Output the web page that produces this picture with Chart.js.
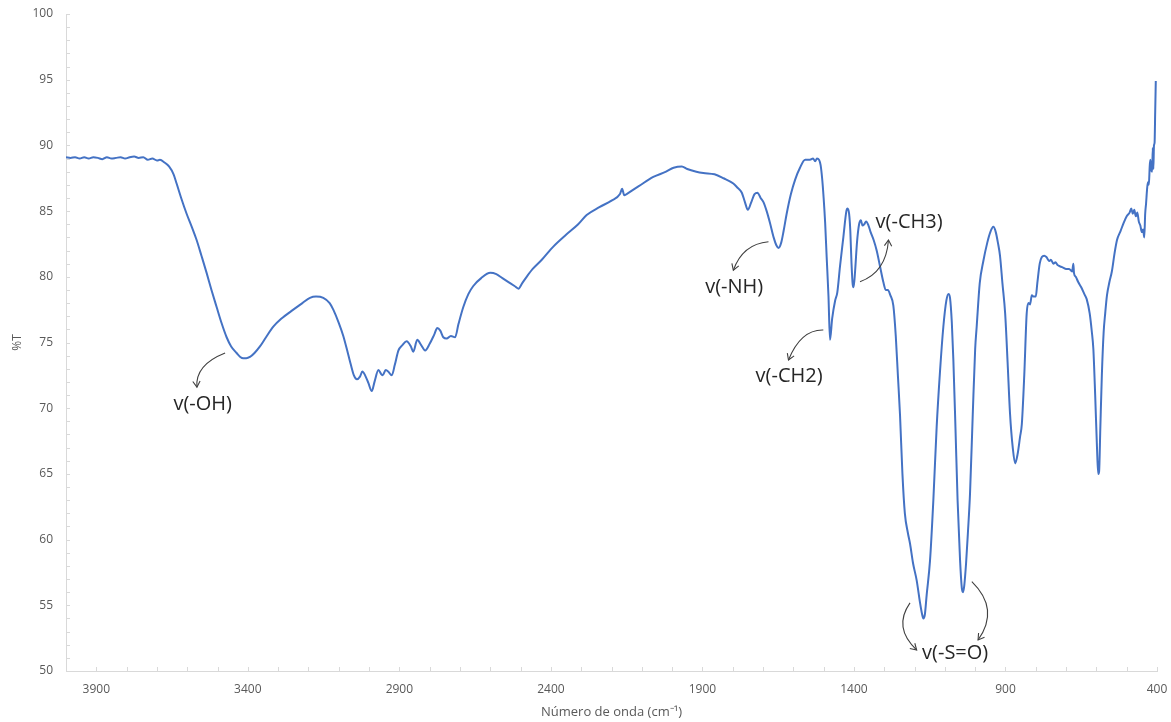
<!DOCTYPE html>
<html>
<head>
<meta charset="utf-8">
<script src="https://cdn.jsdelivr.net/npm/chart.js@4.4.1/dist/chart.umd.min.js"></script>
<style>
  html, body { margin: 0; padding: 0; background: #ffffff; }
  #wrap { width: 1171px; height: 722px; }
</style>
</head>
<body>
<div id="wrap"><canvas id="spectrum" width="1171" height="722"></canvas></div>
<script>
// FTIR spectrum: wavenumber (cm-1) and transmittance (%T)
const wavenumbers = [
  4000, 3985, 3970, 3955, 3940, 3925, 3910, 3895, 3880, 3865, 3850, 3835, 3820, 3805, 3790, 3775, 3760, 3745, 3730, 3715,
  3700, 3690, 3675, 3660, 3645, 3635, 3620, 3602, 3585, 3569, 3553, 3536, 3520, 3503, 3487, 3470, 3455, 3437, 3425, 3415,
  3405, 3393, 3378, 3360, 3340, 3316, 3290, 3250, 3220, 3195, 3175, 3151, 3130, 3118, 3100, 3085, 3070, 3060, 3050, 3040,
  3030, 3022, 3013, 3002, 2991, 2982, 2969, 2960, 2955, 2945, 2937, 2925, 2915, 2903, 2890, 2876, 2862, 2854, 2841, 2828,
  2815, 2800, 2785, 2775, 2765, 2755, 2744, 2730, 2716, 2705, 2689, 2672, 2656, 2630, 2600, 2580, 2560, 2540, 2520, 2507,
  2495, 2480, 2460, 2430, 2392, 2350, 2310, 2282, 2240, 2200, 2172, 2165, 2158, 2150, 2110, 2062, 2020, 1995, 1968, 1950,
  1920, 1897, 1860, 1830, 1798, 1785, 1770, 1760, 1750, 1740, 1728, 1718, 1708, 1699, 1688, 1677, 1665, 1656, 1649, 1640,
  1632, 1622, 1608, 1594, 1578, 1561, 1545, 1535, 1528, 1522, 1515, 1510, 1505, 1500, 1495, 1490, 1484, 1479, 1472, 1462,
  1455, 1446, 1435, 1425, 1421, 1416, 1412, 1408, 1404, 1401, 1396, 1390, 1383, 1377, 1372, 1366, 1360, 1352, 1345, 1335,
  1325, 1314, 1303, 1295, 1288, 1280, 1270, 1262, 1255, 1248, 1240, 1232, 1222, 1215, 1205, 1193, 1182, 1175, 1171, 1166,
  1160, 1149, 1138, 1127, 1116, 1105, 1095, 1088, 1083, 1077, 1072, 1065, 1058, 1050, 1044, 1040, 1036, 1030, 1024, 1017,
  1008, 1000, 995, 985, 973, 960, 950, 940, 932, 925, 918, 910, 901, 893, 885, 876, 868, 860, 852, 846,
  838, 830, 824, 819, 813, 808, 800, 795, 787, 780, 772, 765, 755, 750, 742, 735, 728, 720, 710, 700,
  690, 680, 676, 674, 668, 660, 650, 640, 632, 622, 615, 610, 604, 598, 594, 591, 587, 582, 576, 571,
  565, 557, 549, 540, 532, 520, 510, 500, 490, 485, 480, 475, 470, 465, 460, 455, 450, 446, 442, 439,
  436, 433, 430, 427, 424, 422, 419, 416, 414, 412, 410, 408, 406, 404
];
const transmittance = [
  89.1, 89.05, 89.1, 89.0, 89.1, 89.0, 89.1, 89.05, 88.95, 89.1, 89.0, 89.05, 89.1, 89.0, 89.1, 89.15, 89.05, 89.1, 88.9, 89.0,
  88.85, 88.9, 88.7, 88.4, 87.8, 87.1, 86.0, 84.8, 83.8, 82.8, 81.6, 80.3, 79.0, 77.7, 76.5, 75.4, 74.7, 74.2, 73.9, 73.8,
  73.8, 73.9, 74.2, 74.7, 75.4, 76.2, 76.8, 77.5, 78.0, 78.4, 78.5, 78.4, 78.0, 77.5, 76.5, 75.5, 74.2, 73.3, 72.5, 72.2,
  72.4, 72.8, 72.5, 71.9, 71.3, 72.0, 72.9, 72.6, 72.5, 72.9, 72.8, 72.5, 73.3, 74.4, 74.8, 75.1, 74.7, 74.3, 75.2, 74.8,
  74.4, 74.9, 75.6, 76.1, 75.9, 75.4, 75.3, 75.5, 75.4, 76.4, 77.7, 78.7, 79.3, 79.9, 80.3, 80.2, 79.9, 79.6, 79.3, 79.1,
  79.5, 80.0, 80.6, 81.3, 82.3, 83.2, 84.0, 84.7, 85.3, 85.8, 86.3, 86.7, 86.2, 86.3, 86.9, 87.6, 88.0, 88.3, 88.4, 88.2,
  88.0, 87.9, 87.8, 87.5, 87.1, 86.8, 86.4, 85.7, 85.1, 85.6, 86.3, 86.4, 86.0, 85.7, 85.0, 84.1, 83.0, 82.4, 82.2, 82.6,
  83.5, 84.8, 86.3, 87.4, 88.3, 88.9, 88.9, 89.0, 88.8, 89.0, 88.9, 88.5, 87.5, 86.0, 84.1, 81.5, 78.5, 75.2, 76.8, 78.2,
  78.8, 80.8, 83.0, 85.0, 85.2, 84.8, 83.5, 81.0, 79.4, 79.2, 80.5, 82.6, 84.0, 84.3, 83.9, 84.0, 84.2, 83.9, 83.4, 82.8,
  82.0, 80.8, 79.6, 79.0, 79.0, 78.6, 77.8, 75.5, 72.5, 69.5, 65.0, 62.0, 60.5, 59.7, 58.2, 56.9, 55.2, 54.3, 54.0, 54.3,
  55.8, 58.4, 63.0, 68.6, 72.8, 76.2, 78.2, 78.7, 78.4, 76.5, 73.7, 68.5, 63.0, 58.5, 56.3, 56.0, 56.5, 58.2, 60.5, 63.5,
  69.5, 74.5, 76.2, 79.5, 81.2, 82.6, 83.4, 83.8, 83.4, 82.6, 81.6, 79.5, 77.2, 73.5, 69.6, 67.0, 65.8, 66.5, 67.8, 68.8,
  72.5, 77.2, 78.0, 77.9, 78.6, 78.5, 78.5, 79.5, 81.0, 81.5, 81.6, 81.5, 81.2, 81.3, 81.0, 81.1, 80.9, 80.8, 80.7, 80.6,
  80.6, 80.4, 81.0, 80.3, 80.0, 79.6, 79.2, 78.7, 78.3, 77.2, 75.8, 74.5, 71.0, 67.0, 65.0, 65.2, 68.5, 72.5, 75.8, 77.2,
  78.6, 79.6, 80.4, 81.8, 82.8, 83.5, 84.1, 84.6, 84.9, 85.2, 84.8, 85.1, 84.6, 84.9, 84.2, 83.9, 83.4, 83.6, 83.0, 84.8,
  85.6, 86.6, 87.2, 87.0, 88.4, 88.9, 88.1, 88.0, 89.8, 88.2, 90.0, 90.2, 92.5, 94.9
];

// Axis ticks
const xTickLabels = [3900, 3400, 2900, 2400, 1900, 1400, 900, 400];
const yTickLabels = [50, 55, 60, 65, 70, 75, 80, 85, 90, 95, 100];

// Band assignments: label position and curved arrow (start, control, end), all in data units
const bandLabels = [
  { text: 'v(-OH)',  at: [3549, 70.3],  arrow: [[3475, 74.2], [3574, 73.3], [3568, 71.6]] },
  { text: 'v(-NH)',  at: [1795, 79.2],  arrow: [[1682, 82.67], [1767, 82.5], [1798, 80.5]] },
  { text: 'v(-CH2)', at: [1614, 72.45], arrow: [[1501, 75.95], [1575, 76.0], [1616, 73.67]] },
  { text: 'v(-CH3)', at: [1218, 84.17], arrow: [[1380, 79.63], [1294, 80.33], [1286, 82.8]] },
  { text: 'v(-S=O)', at: [1066, 51.37], arrow: [[1215, 55.18], [1272, 53.3], [1193, 51.6]] },
  { text: '',        at: null,          arrow: [[1011, 56.8], [918, 54.7], [990.4, 52.36]] }
];

const points = wavenumbers.map((w, i) => ({ x: w, y: transmittance[i] }));

// Small inward minor ticks on both axes
const minorTicks = {
  id: 'minorTicks',
  afterDraw(chart) {
    const { ctx, chartArea, scales } = chart;
    const xs = scales.x, ys = scales.y;
    ctx.save();
    ctx.strokeStyle = '#d9d9d9';
    ctx.lineWidth = 1;
    ctx.beginPath();
    for (let v = ys.min; v <= ys.max; v += 1) {
      const py = Math.round(ys.getPixelForValue(v)) + 0.5;
      ctx.moveTo(chartArea.left, py);
      ctx.lineTo(chartArea.left + 4, py);
    }
    for (let v = xs.min; v <= xs.max; v += 100) {
      const px = Math.round(xs.getPixelForValue(v)) + 0.5;
      ctx.moveTo(px, chartArea.bottom);
      ctx.lineTo(px, chartArea.bottom - 4);
    }
    ctx.stroke();
    ctx.restore();
  }
};

// Band labels with hand-drawn style arrows
const bandAnnotations = {
  id: 'bandAnnotations',
  afterDatasetsDraw(chart) {
    const { ctx, scales } = chart;
    const P = (p) => [scales.x.getPixelForValue(p[0]), scales.y.getPixelForValue(p[1])];
    ctx.save();
    bandLabels.forEach(b => {
      const [s, c, e] = b.arrow.map(P);
      ctx.strokeStyle = '#404040';
      ctx.lineWidth = 1.1;
      ctx.beginPath();
      ctx.moveTo(s[0], s[1]);
      ctx.quadraticCurveTo(c[0], c[1], e[0], e[1]);
      ctx.stroke();
      // open arrow head along the end tangent
      const ang = Math.atan2(e[1] - c[1], e[0] - c[0]);
      const L = 7, spread = 0.55;
      ctx.beginPath();
      ctx.moveTo(e[0] - L * Math.cos(ang - spread), e[1] - L * Math.sin(ang - spread));
      ctx.lineTo(e[0], e[1]);
      ctx.lineTo(e[0] - L * Math.cos(ang + spread), e[1] - L * Math.sin(ang + spread));
      ctx.stroke();
      if (b.text && b.at) {
        const [tx, ty] = P(b.at);
        ctx.fillStyle = '#262626';
        ctx.font = '20px "Open Sans", sans-serif';
        ctx.textAlign = 'center';
        ctx.textBaseline = 'middle';
        ctx.fillText(b.text, tx, ty);
      }
    });
    ctx.restore();
  }
};

new Chart(document.getElementById('spectrum'), {
  type: 'line',
  data: {
    datasets: [{
      data: points,
      borderColor: '#4472C4',
      borderWidth: 2,
      pointRadius: 0,
      fill: false,
      cubicInterpolationMode: 'monotone'
    }]
  },
  options: {
    responsive: false,
    animation: false,
    layout: { padding: { left: 0, top: 14, right: 14, bottom: 0 } },
    plugins: { legend: { display: false }, tooltip: { enabled: false } },
    scales: {
      x: {
        type: 'linear',
        reverse: true,
        min: 400,
        max: 4000,
        afterBuildTicks(scale) { scale.ticks = xTickLabels.map(v => ({ value: v })); },
        afterFit(scale) { scale.height = 51; scale.paddingLeft = 0; scale.paddingRight = 0; },
        grid: { display: true, drawOnChartArea: false, drawTicks: false },
        border: { display: true, color: '#d9d9d9', width: 1 },
        ticks: { color: '#595959', font: { family: 'Open Sans', size: 12 }, padding: 11,
                 maxRotation: 0, autoSkip: false, callback: (v) => String(v) },
        title: { display: true, text: 'Número de onda (cm⁻¹)', color: '#595959',
                 font: { family: 'Open Sans', size: 13 }, padding: { top: 0, bottom: 2 } }
      },
      y: {
        min: 50,
        max: 100,
        afterBuildTicks(scale) { scale.ticks = yTickLabels.map(v => ({ value: v })); },
        afterFit(scale) { scale.width = 66; scale.paddingTop = 0; scale.paddingBottom = 0; },
        grid: { display: true, drawOnChartArea: false, drawTicks: false },
        border: { display: true, color: '#d9d9d9', width: 1 },
        ticks: { color: '#595959', font: { family: 'Open Sans', size: 12 }, padding: 13,
                 callback: (v) => String(v) },
        title: { display: true, text: '%T', color: '#595959',
                 font: { family: 'Open Sans', size: 12 }, padding: { top: 10, bottom: 0 } }
      }
    }
  },
  plugins: [minorTicks, bandAnnotations]
});
</script>
</body>
</html>
